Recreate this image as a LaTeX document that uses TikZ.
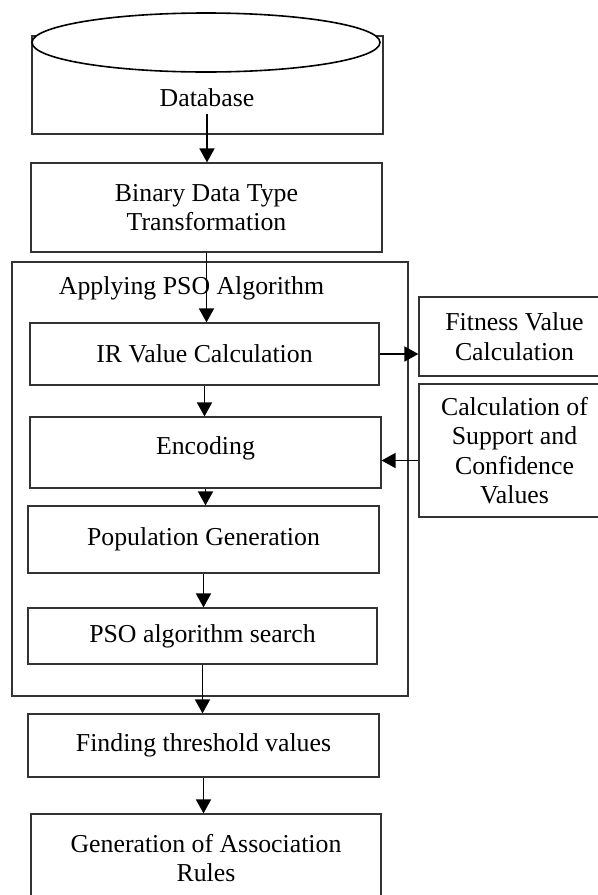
\documentclass[tikz,border=0pt]{standalone}
\usepackage{fontspec}
\setmainfont{Liberation Serif}
\usepackage{tikz}
\usetikzlibrary{positioning}
\usetikzlibrary{arrows.meta, shapes.geometric, calc}
\tikzstyle{box} = [rectangle, draw=black!80, line width=0.6pt, fill=white, inner sep=0pt, align=center]
\tikzstyle{frame} = [rectangle, draw=black!80, line width=0.6pt, inner sep=0pt]
\tikzstyle{arrow} = [line width=0.85pt, -{Triangle[length=7pt, width=7.5pt]}]

\begin{document}
\begin{tikzpicture}[x=0.5pt, y=-0.5pt, every node/.style={font=\fontsize{12.9pt}{14.7pt}\selectfont}]
\useasboundingbox (0,0) rectangle (598,895);
\node (db) [box, minimum width=175.5pt, minimum height=49pt] at (207.5,85) {};
\node (dbtop) [ellipse, draw=black, line width=0.8pt, fill=white, minimum width=174pt, minimum height=29.5pt] at (206,42.5) {};
\node (dblabel) at (207,98) {Database};
\node (bin) [box, minimum width=175.5pt, minimum height=44.5pt] at (206.5,207.5) {Binary Data Type\\Transformation};
\node (psoframe) [frame, minimum width=198pt, minimum height=217pt] at (210,479) {};
\node (psotitle) at (191.5,288) {Applying PSO Algorithm};
\node (ir) [box, minimum width=174.5pt, minimum height=31pt] at (204.5,354) {IR Value Calculation};
\node (enc) [box, minimum width=175.5pt, minimum height=35.5pt] at (205.5,452.5) {Encoding\\[-8pt]};
\node (pop) [box, minimum width=175.5pt, minimum height=33.5pt] at (203.5,539.5) {Population Generation};
\node (search) [box, minimum width=174.5pt, minimum height=28pt] at (202.5,636) {PSO algorithm search};
\node (find) [box, minimum width=175.5pt, minimum height=31.5pt] at (203.5,745.5) {Finding threshold values};
\node (gen) [box, minimum width=175pt, minimum height=44pt] at (206,858) {Generation of Association\\Rules};
\node (fit) [box, minimum width=95.5pt, minimum height=39.5pt] at (514.5,336.5) {Fitness Value\\Calculation};
\node (calc) [box, minimum width=95.5pt, minimum height=66.5pt] at (514.5,450.5) {Calculation of\\Support and\\Confidence\\Values};
\draw[arrow] (dblabel.south) -- (dblabel.south |- bin.north);
\draw[arrow] (bin.south) -- (bin.south |- ir.north);
\draw[arrow] (ir.south) -- (ir.south |- enc.north);
\draw[arrow] (enc.south) -- (enc.south |- pop.north);
\draw[arrow] (pop.south) -- (pop.south |- search.north);
\draw[arrow] (search.south) -- (search.south |- find.north);
\draw[arrow] (find.south) -- (find.south |- gen.north);
\draw[arrow] (ir.east) -- (ir.east -| fit.west);
\draw[arrow] ([yshift=-5pt]calc.west) -- ([yshift=-5pt]calc.west -| enc.east);
\end{tikzpicture}
\end{document}
